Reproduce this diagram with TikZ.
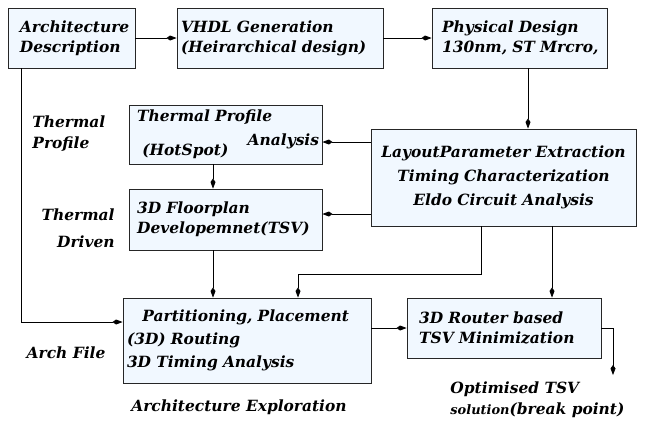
\documentclass[tikz,border=0pt]{standalone}
\usepackage{fontspec}
\setmainfont{DejaVu Serif}
\usepackage{tikz}
\usetikzlibrary{arrows.meta}
\usetikzlibrary{calc}
\usetikzlibrary{positioning}

\definecolor{boxfill}{RGB}{241,248,255}
\hyphenpenalty=10000
\tikzset{
  blk/.style={draw=black!85, fill=boxfill, line width=0.9pt, inner xsep=6bp, inner ysep=2bp,
    font=\fontsize{15.5}{20}\selectfont\bfseries\itshape},
  lbl/.style={font=\fontsize{15.5}{21}\selectfont\bfseries\itshape, inner sep=0pt},
}

\begin{document}
\begin{tikzpicture}[x=1bp,y=-1bp,>={Kite[length=10bp,width=5bp,inset=3.5bp]},line width=0.8pt]
  \useasboundingbox (0,0) rectangle (648,424);

  % top row
  \node[blk, minimum width=127bp, minimum height=60bp, text width=103bp, inner xsep=12bp, align=left] (arch) at (71.5,38) {\mbox{Architecture}\\Description};
  \node[blk, minimum width=206bp, minimum height=60bp, text width=198bp, inner xsep=4bp, align=left] (vhdl) at (280,38) {\mbox{VHDL Generation}\\\mbox{(Heirarchical design)}};
  \node[blk, minimum width=175bp, minimum height=60bp, text width=155bp, inner xsep=10bp, align=left] (phys) at (519.5,38) {\mbox{Physical Design}\\\mbox{130nm, ST Mrcro,}};

  % thermal part
  \node[blk, minimum width=193bp, minimum height=59bp, text width=187bp, inner xsep=3bp, align=left] (therm) at (225.5,134.5) {\ \mbox{Thermal Profile}\\[8pt]\ \ (HotSpot)\hfill\raisebox{0.65em}{Analysis}};
  \node[blk, minimum width=193bp, minimum height=61bp, text width=187bp, inner xsep=3bp, align=left] (floor) at (225.5,219.5) {\ \mbox{3D Floorplan}\\\ \mbox{Developemnet(TSV)}};
  \node[blk, minimum width=265bp, minimum height=97bp, text width=263bp, align=center, inner xsep=1bp,
    font=\fontsize{15.5}{24}\selectfont\bfseries\itshape] (layout) at (503.5,177.5) {\mbox{LayoutParameter Extraction}\\\mbox{Timing Characterization}\\\mbox{Eldo Circuit Analysis}};

  % bottom row
  \node[blk, minimum width=248bp, minimum height=85bp, text width=240bp, inner xsep=4bp, align=left,
    font=\fontsize{15.5}{23}\selectfont\bfseries\itshape] (part) at (247,340.5) {\quad\mbox{Partitioning, Placement}\\(3D) Routing\\\mbox{3D Timing Analysis}};
  \node[blk, minimum width=194bp, minimum height=60bp, text width=180bp, inner xsep=7bp, align=left] (router) at (504,328) {\ \mbox{3D Router based}\\\ \mbox{TSV Minimization}};

  % side labels
  \node[lbl, align=left, anchor=west] (tprof) at (32,134) {Thermal\\Profile};
  \node[lbl, align=right, anchor=east] (tdriv) at (115,228) {Thermal\\[6pt]Driven};
  \node[lbl] (archf) at (66,353) {Arch File};
  \node[lbl] (explo) at (239,407) {Architecture Exploration};
  \node[lbl, align=left, anchor=west] (optim) at (450,400) {Optimised TSV\\{\fontsize{13}{14}\selectfont solution}(break point)};
  \coordinate (out) at (613,375);

  % connectors
  \draw[->] (arch) -- (vhdl);
  \draw[->] (vhdl) -- (phys);
  \draw[->] (phys.south -| 528,0) -- (layout.north -| 528,0);
  \draw[->] (layout.west |- 0,142) -- (therm.east |- 0,142);
  \draw[->] (layout.west |- 0,214) -- (floor.east |- 0,214);
  \draw[->] (therm.south -| 213,0) -- (floor.north -| 213,0);
  \draw[->] (floor.south -| 213,0) -- (part.north -| 213,0);
  \draw[->] (layout.south -| 481,0) |- (298,274) -- (part.north -| 298,0);
  \draw[->] (layout.south -| 552,0) -- (router.north -| 552,0);
  \draw[->] (part.east |- router.west) -- (router.west);
  \draw[->] (router.east) -| (out);
  \draw[->] (arch.south -| 21,0) |- (part.west |- 0,322);
\end{tikzpicture}
\end{document}
